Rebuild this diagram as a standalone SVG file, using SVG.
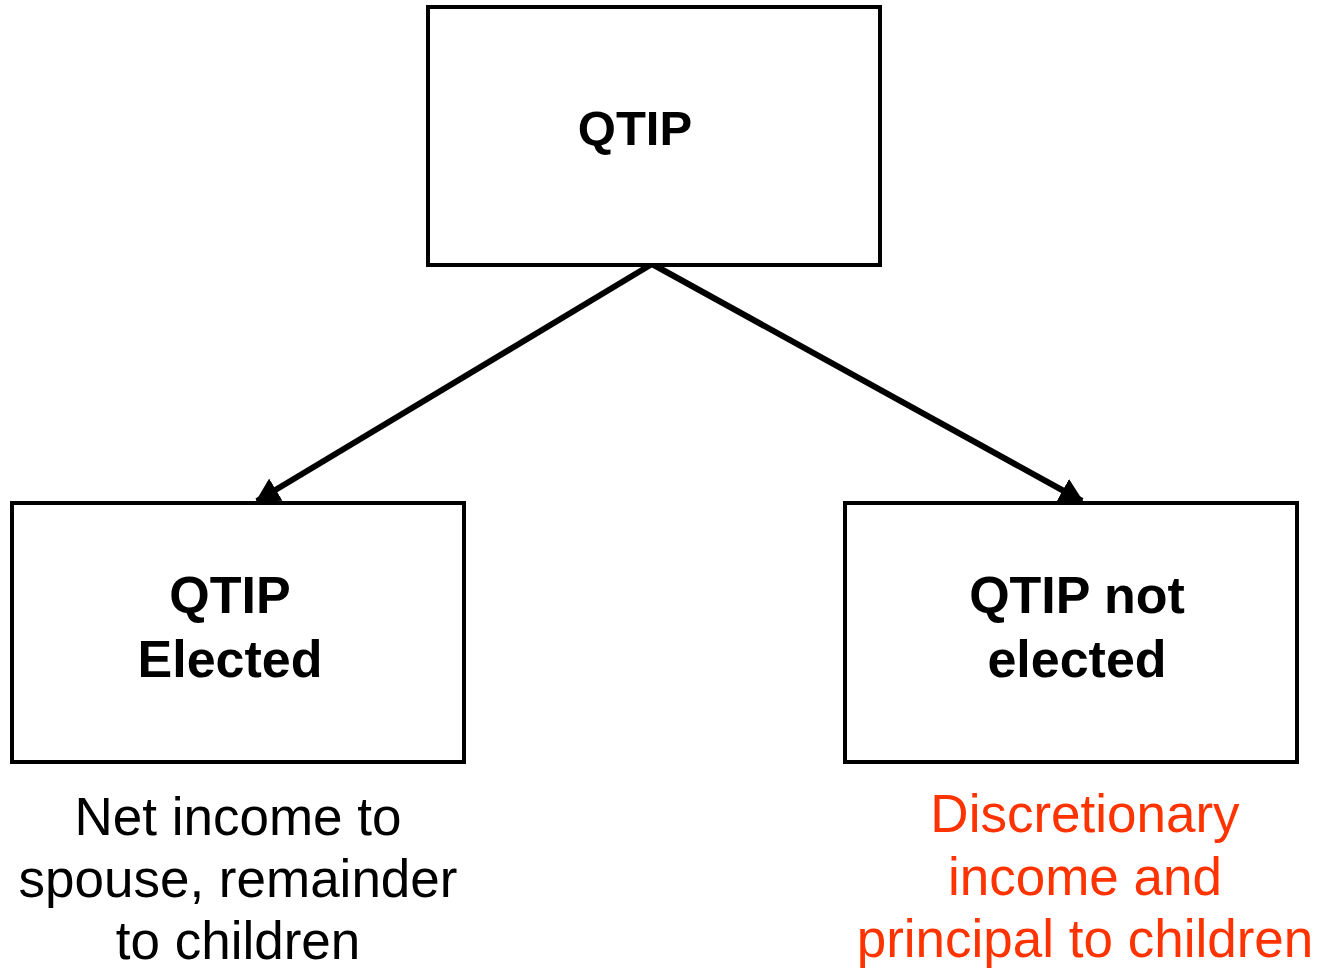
<svg xmlns="http://www.w3.org/2000/svg" width="1319" height="970" viewBox="0 0 1319 970">
<style>
.box{fill:#fff;stroke:#000;stroke-width:4}
.b{font-family:"Liberation Sans",Arial,sans-serif;font-weight:bold;text-anchor:middle;fill:#000}
.r{font-family:"Liberation Sans",Arial,sans-serif;font-size:53px;text-anchor:middle}
.con{stroke:#000;stroke-width:6;fill:none}
</style>
<defs>
<marker id="ah" viewBox="0 0 24 26" refX="22" refY="13" markerWidth="24" markerHeight="26" markerUnits="userSpaceOnUse" orient="auto">
<path d="M0,0 L24,13 L0,26 Z" fill="#000"/>
</marker>
</defs>
<g id="connectors">
<path class="con" d="M652,264 L257,501" marker-end="url(#ah)"/>
<path class="con" d="M652,264 L1082,501" marker-end="url(#ah)"/>
</g>
<g id="qtip">
<rect class="box" x="428" y="7" width="452" height="258"/>
<text class="b" x="635" y="145" font-size="49">QTIP</text>
</g>
<g id="elected">
<rect class="box" x="12" y="503" width="452" height="259"/>
<text class="b" x="230" y="613" font-size="52">QTIP</text>
<text class="b" x="230" y="677" font-size="52">Elected</text>
</g>
<g id="not-elected">
<rect class="box" x="845" y="503" width="452" height="259"/>
<text class="b" x="1077" y="613" font-size="52">QTIP not</text>
<text class="b" x="1077" y="677" font-size="52">elected</text>
</g>
<g id="elected-note">
<text class="r" x="238" y="835" fill="#000">Net income to</text>
<text class="r" x="238" y="897" fill="#000">spouse, remainder</text>
<text class="r" x="238" y="959" fill="#000">to children</text>
</g>
<g id="not-elected-note">
<text class="r" x="1085" y="832" fill="#FF3300">Discretionary</text>
<text class="r" x="1085" y="895" fill="#FF3300">income and</text>
<text class="r" x="1085" y="957" fill="#FF3300">principal to children</text>
</g>
</svg>
